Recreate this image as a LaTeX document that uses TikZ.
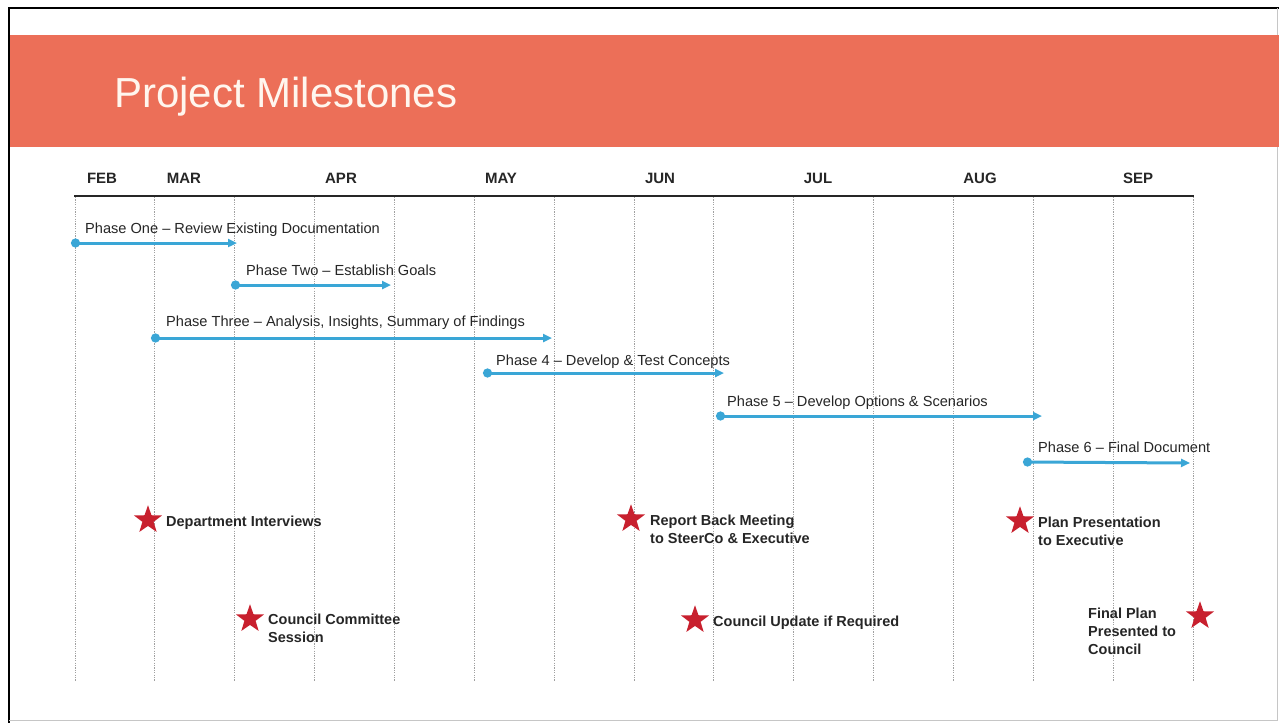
\documentclass[tikz,border=0pt]{standalone}
\usepackage{fontspec}
\setmainfont{Liberation Sans}
\usetikzlibrary{arrows.meta,shapes.geometric}
\definecolor{banner}{RGB}{236,111,88}
\definecolor{titletext}{RGB}{255,246,238}
\definecolor{phaseblue}{RGB}{58,166,214}
\definecolor{starred}{RGB}{200,32,46}
\definecolor{ink}{RGB}{38,38,38}
\definecolor{gridgray}{RGB}{160,160,160}
\begin{document}
\begin{tikzpicture}[x=1pt,y=-1pt,
  month/.style={font=\fontsize{15}{18}\selectfont\bfseries, text=ink, anchor=base, inner sep=0pt},
  phaselabel/.style={font=\fontsize{14.6}{17}\selectfont, text=ink, anchor=base west, inner sep=0pt},
  phase/.style={draw=phaseblue, line width=3pt,
    {Circle[length=9pt]}-{Triangle[length=9pt,width=8pt]}},
  mstar/.style={star, star points=5, star point ratio=2.5, minimum size=29.5pt,
    inner sep=0pt, fill=starred, draw=none},
  mlabel/.style={font=\fontsize{14.5}{18}\selectfont\bfseries, text=ink, anchor=base west,
    inner sep=0pt, align=left},
  gridline/.style={draw=gridgray, line width=1pt, dash pattern=on 1.2pt off 1.2pt}]
\useasboundingbox (0,0) rectangle (1279,723);
\fill[white] (0,0) rectangle (1279,723);

% slide frame
\draw[black, line width=2.2pt] (8,8) -- (1279,8);
\draw[black, line width=2.5pt] (9,8) -- (9,723);
\draw[gray!45, line width=1pt] (9,720) -- (1277,720) -- (1277,8);

% title banner
\fill[banner] (10,35) rectangle (1279,147);
\node[font=\fontsize{42}{48}\selectfont, text=titletext, anchor=base west, inner sep=0pt]
  (title) at (114,107) {Project Milestones};

% month grid
\foreach \i in {0,...,14}
  \draw[gridline] ({75+79.857*\i},197) -- ({75+79.857*\i},681);
\coordinate (axisL) at (74,196);
\coordinate (axisR) at (1194,196);
\draw[ink, line width=1.6pt] (axisL) -- (axisR);

\node[month] (feb) at (102,183) {FEB};
\node[month] (mar) at (184,183) {MAR};
\node[month] (apr) at (341,183) {APR};
\node[month] (may) at (501,183) {MAY};
\node[month] (jun) at (660,183) {JUN};
\node[month] (jul) at (818,183) {JUL};
\node[month] (aug) at (980,183) {AUG};
\node[month] (sep) at (1138,183) {SEP};

% phases
\coordinate (p1s) at (71,243);  \coordinate (p1e) at (237,243);
\coordinate (p2s) at (231,285); \coordinate (p2e) at (391,285);
\coordinate (p3s) at (151,338); \coordinate (p3e) at (552,338);
\coordinate (p4s) at (483,373); \coordinate (p4e) at (724,373);
\coordinate (p5s) at (716,416); \coordinate (p5e) at (1042,416);
\coordinate (p6s) at (1023,462); \coordinate (p6e) at (1190,463);
\draw[phase] (p1s) -- (p1e);
\draw[phase] (p2s) -- (p2e);
\draw[phase] (p3s) -- (p3e);
\draw[phase] (p4s) -- (p4e);
\draw[phase] (p5s) -- (p5e);
\draw[phase] (p6s) -- (p6e);

\node[phaselabel] (l1) at (85,233)   {Phase One -- Review Existing Documentation};
\node[phaselabel] (l2) at (246,275)  {Phase Two -- Establish Goals};
\node[phaselabel] (l3) at (166,326)  {Phase Three -- Analysis, Insights, Summary of Findings};
\node[phaselabel] (l4) at (496,365)  {Phase 4 -- Develop \& Test Concepts};
\node[phaselabel] (l5) at (727,406)  {Phase 5 -- Develop Options \& Scenarios};
\node[phaselabel] (l6) at (1038,452) {Phase 6 -- Final Document};

% milestones (multi-line labels are placed by the baseline of their last line)
\node[mstar] (s1) at (148,520) {};
\node[mlabel] (m1) at (166,526) {Department Interviews};
\node[mstar] (s2) at (250,619) {};
\node[mlabel] (m2) at (268,642) {Council Committee\\Session};
\node[mstar] (s3) at (631,519) {};
\node[mlabel] (m3) at (650,543) {Report Back Meeting\\to SteerCo \& Executive};
\node[mstar] (s4) at (695,620) {};
\node[mlabel] (m4) at (713,626) {Council Update if Required};
\node[mstar] (s5) at (1020,521) {};
\node[mlabel] (m5) at (1038,545) {Plan Presentation\\to Executive};
\node[mstar] (s6) at (1200,616) {};
\node[mlabel] (m6) at (1088,654) {Final Plan\\Presented to\\Council};
\end{tikzpicture}
\end{document}
